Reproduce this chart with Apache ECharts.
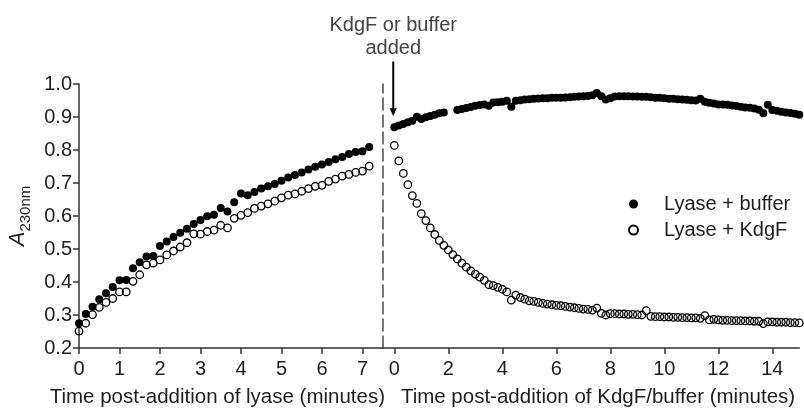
<!DOCTYPE html>
<html>
<head>
<meta charset="utf-8">
<script src="https://cdn.jsdelivr.net/npm/echarts@6/dist/echarts.min.js"></script>
<style>
html,body{margin:0;padding:0;background:#fff;}
#chart{width:804px;height:413px;}
</style>
</head>
<body>
<div id="chart"></div>
<script>
// ---- Data ----
// Left panel: time post-addition of lyase (seconds)
const leftTimeSec = [0,10,20,30,40,50,60,70,80,90,100,110,120,130,140,150,160,170,180,190,200,210,220,230,240,250,260,270,280,290,300,310,320,330,340,350,360,370,380,390,400,410,420,430];
const leftBuffer = [0.275,0.303,0.325,0.348,0.366,0.385,0.405,0.406,0.442,0.460,0.477,0.479,0.509,0.523,0.536,0.549,0.561,0.576,0.588,0.599,0.604,0.624,0.614,0.642,0.668,0.663,0.673,0.683,0.690,0.697,0.707,0.717,0.724,0.732,0.741,0.749,0.756,0.764,0.772,0.779,0.788,0.794,0.796,0.809];
const leftKdgF = [0.251,0.275,0.301,0.323,0.338,0.350,0.370,0.370,0.402,0.422,0.452,0.457,0.467,0.482,0.494,0.506,0.519,0.546,0.545,0.553,0.557,0.572,0.564,0.593,0.602,0.610,0.623,0.630,0.637,0.645,0.655,0.663,0.667,0.675,0.683,0.690,0.693,0.705,0.712,0.721,0.726,0.732,0.736,0.751];
// Right panel: time post-addition of KdgF/buffer (seconds)
const rightTimeSec = [0,10,20,30,40,50,60,70,80,90,100,110,120,130,140,150,160,170,180,190,200,210,220,230,240,250,260,270,280,290,300,310,320,330,340,350,360,370,380,390,400,410,420,430,440,450,460,470,480,490,500,510,520,530,540,550,560,570,580,590,600,610,620,630,640,650,660,670,680,690,700,710,720,730,740,750,760,770,780,790,800,810,820,830,840,850,860,870,880,890,900];
const rightBuffer = [0.869,0.874,0.879,0.884,0.889,0.901,0.894,0.899,0.903,0.907,0.911,0.914,null,null,0.921,0.924,0.927,0.930,0.934,0.936,0.938,0.934,0.944,0.945,0.946,0.949,0.931,0.949,0.951,0.953,0.954,0.955,0.956,0.957,0.957,0.958,0.958,0.958,0.959,0.960,0.961,0.962,0.963,0.964,0.966,0.973,0.963,0.953,0.957,0.962,0.963,0.963,0.963,0.962,0.962,0.961,0.961,0.960,0.958,0.958,0.957,0.955,0.955,0.954,0.953,0.952,0.951,0.950,0.955,0.946,0.943,0.941,0.938,0.938,0.937,0.935,0.933,0.931,0.929,0.928,0.926,0.922,0.911,0.937,0.921,0.919,0.916,0.914,0.912,0.910,0.907];
const rightKdgF = [0.814,0.767,0.729,0.695,0.662,0.638,0.607,0.586,0.564,0.544,0.526,0.511,0.497,0.483,0.470,0.457,0.445,0.434,0.424,0.415,0.405,0.392,0.389,0.384,0.378,0.370,0.345,0.360,0.353,0.348,0.343,0.341,0.338,0.335,0.333,0.331,0.329,0.328,0.326,0.324,0.322,0.320,0.318,0.317,0.315,0.321,0.305,0.300,0.304,0.304,0.303,0.303,0.302,0.302,0.301,0.300,0.313,0.296,0.295,0.295,0.294,0.294,0.293,0.293,0.292,0.292,0.291,0.291,0.290,0.298,0.285,0.287,0.285,0.284,0.284,0.283,0.283,0.283,0.282,0.282,0.281,0.281,0.274,0.279,0.279,0.278,0.278,0.278,0.277,0.277,0.276];
const leftTicks = [0,1,2,3,4,5,6,7];
const rightTicks = [0,2,4,6,8,10,12,14];
const seriesNames = ['Lyase + buffer', 'Lyase + KdgF'];
const annotationText = 'KdgF or buffer\nadded';
const xTitleLeft = 'Time post-addition of lyase (minutes)';
const xTitleRight = 'Time post-addition of KdgF/buffer (minutes)';

// ---- Build ----
const FONT = 'Liberation Sans';
const FS = 20;
const TXT = '#1e1e1e';
const AX = '#333';
function pairs(tSec, vals) {
  const out = [];
  for (let i = 0; i < tSec.length; i++) if (vals[i] != null) out.push([tSec[i] / 60, vals[i]]);
  return out;
}
const filledStyle = { color: '#000', opacity: 1 };
const openStyle = { color: 'rgba(255,255,255,0)', borderColor: '#000', borderWidth: 1.3, opacity: 1 };

const chart = echarts.init(document.getElementById('chart'), null, { renderer: 'canvas' });
const yCommon = {
  type: 'value', min: 0.2, max: 1.0, interval: 0.1,
  splitLine: { show: false }
};
chart.setOption({
  animation: false,
  backgroundColor: '#fff',
  grid: [
    { left: 79, top: 84, width: 303.7, height: 269 },
    { left: 382.7, top: 84, width: 416.6, height: 269 }
  ],
  xAxis: [
    {
      gridIndex: 0, type: 'value', min: 0, max: 7.5,
      axisLine: { onZero: false, lineStyle: { color: AX, width: 1.5 } },
      axisTick: { customValues: leftTicks, length: 6, lineStyle: { color: AX, width: 1.5 } },
      axisLabel: { customValues: leftTicks, margin: 11, color: TXT, fontFamily: FONT, fontSize: FS },
      splitLine: { show: false },
      name: xTitleLeft, nameLocation: 'middle', nameGap: 39,
      nameTextStyle: { color: TXT, fontFamily: FONT, fontSize: 20.5, padding: [0, 27, 0, 0] }
    },
    {
      gridIndex: 1, type: 'value', min: -0.43, max: 15,
      axisLine: { onZero: false, lineStyle: { color: AX, width: 1.5 } },
      axisTick: { customValues: rightTicks, length: 6, lineStyle: { color: AX, width: 1.5 } },
      axisLabel: { customValues: rightTicks, margin: 11, color: TXT, fontFamily: FONT, fontSize: FS },
      splitLine: { show: false },
      name: xTitleRight, nameLocation: 'middle', nameGap: 39,
      nameTextStyle: { color: TXT, fontFamily: FONT, fontSize: 20.5, padding: [0, 0, 0, 14] }
    }
  ],
  yAxis: [
    Object.assign({}, yCommon, {
      gridIndex: 0,
      axisLine: { show: true, onZero: false, lineStyle: { color: AX, width: 1.5 } },
      axisTick: { show: true, length: 6, lineStyle: { color: AX, width: 1.5 } },
      axisLabel: { margin: 7, color: TXT, fontFamily: FONT, fontSize: FS, formatter: v => v.toFixed(1) },
      name: '{a|A}{s|230nm}', nameLocation: 'middle', nameGap: 46,
      nameTextStyle: {
        rich: {
          a: { fontFamily: FONT, fontStyle: 'italic', fontSize: 22, color: TXT, lineHeight: 30, verticalAlign: 'middle' },
          s: { fontFamily: FONT, fontSize: 15, color: TXT, lineHeight: 14, verticalAlign: 'bottom' }
        }
      }
    }),
    Object.assign({}, yCommon, {
      gridIndex: 1,
      axisLine: { show: true, onZero: false, lineStyle: { color: '#555', width: 1.6, type: [12, 5] } },
      axisTick: { show: false },
      axisLabel: { show: false }
    })
  ],
  legend: {
    orient: 'vertical', left: 623, top: 188,
    itemWidth: 9, itemHeight: 9, itemGap: 4,
    textStyle: { color: TXT, fontFamily: FONT, fontSize: FS, lineHeight: 22, padding: [0, 0, 0, 21] },
    data: [{ name: seriesNames[0], icon: 'circle' }, { name: seriesNames[1], icon: 'circle' }]
  },
  series: [
    { name: seriesNames[0], type: 'scatter', xAxisIndex: 0, yAxisIndex: 0, symbolSize: 8, itemStyle: filledStyle, data: pairs(leftTimeSec, leftBuffer) },
    { name: seriesNames[1], type: 'scatter', xAxisIndex: 0, yAxisIndex: 0, symbolSize: 7.5, itemStyle: openStyle, data: pairs(leftTimeSec, leftKdgF) },
    { name: seriesNames[0], type: 'scatter', xAxisIndex: 1, yAxisIndex: 1, symbolSize: 8, itemStyle: filledStyle, data: pairs(rightTimeSec, rightBuffer) },
    { name: seriesNames[1], type: 'scatter', xAxisIndex: 1, yAxisIndex: 1, symbolSize: 7.5, itemStyle: openStyle, data: pairs(rightTimeSec, rightKdgF) }
  ]
});

// Annotation arrow placed via the right panel's scales
const tip = chart.convertToPixel({ gridIndex: 1 }, [-0.04, 0.902]);
const tail = chart.convertToPixel({ gridIndex: 1 }, [-0.04, 1.068]);
chart.setOption({
  graphic: [
    { type: 'line', shape: { x1: tip[0], y1: tail[1], x2: tip[0], y2: tip[1] - 6 }, style: { stroke: '#000', lineWidth: 2 } },
    { type: 'polygon', shape: { points: [[tip[0] - 3.5, tip[1] - 8], [tip[0] + 3.5, tip[1] - 8], [tip[0], tip[1]]] }, style: { fill: '#000' } },
    { type: 'text', x: tip[0], y: 14, style: { text: annotationText, fill: '#444', font: FS + 'px "Liberation Sans"', align: 'center', verticalAlign: 'top', lineHeight: 23 } }
  ]
});
</script>
</body>
</html>
